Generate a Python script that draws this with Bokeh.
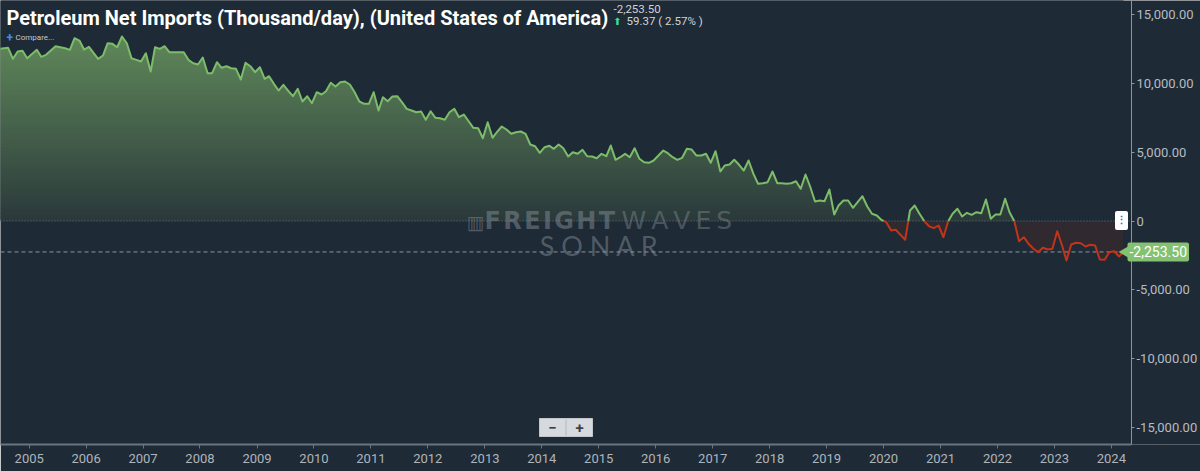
import numpy as np
import pandas as pd
from bokeh.plotting import figure
from bokeh.models import (Range1d, FixedTicker, CustomJSTickFormatter,
                          DatetimeTickFormatter, Label, ColumnDataSource)
from bokeh.embed import file_html
from bokeh.resources import INLINE

# ---------------- data (monthly, thousand barrels/day) ----------------
months = [
    "2004-06", "2004-08", "2004-09", "2004-10", "2004-11", "2004-12",
    "2005-02", "2005-03", "2005-04", "2005-06", "2005-08", "2005-09", "2005-10", "2005-11", "2005-12",
    "2006-01", "2006-03", "2006-04", "2006-05", "2006-06", "2006-07", "2006-08", "2006-09", "2006-10", "2006-11", "2006-12",
    "2007-01", "2007-02", "2007-03", "2007-04", "2007-05", "2007-06", "2007-07", "2007-09", "2007-10", "2007-11", "2007-12",
    "2008-01", "2008-02", "2008-03", "2008-04", "2008-05", "2008-06", "2008-07", "2008-08", "2008-09", "2008-10", "2008-11", "2008-12",
    "2009-01", "2009-02", "2009-03", "2009-04", "2009-05", "2009-06", "2009-07", "2009-08", "2009-09", "2009-10", "2009-11", "2009-12",
    "2010-01", "2010-02", "2010-03", "2010-04", "2010-05", "2010-06", "2010-07", "2010-08", "2010-09", "2010-10", "2010-11", "2010-12",
    "2011-01", "2011-02", "2011-03", "2011-04", "2011-05", "2011-06", "2011-07", "2011-08", "2011-09", "2011-10", "2011-11", "2011-12",
    "2012-01", "2012-02", "2012-03", "2012-04", "2012-05", "2012-06", "2012-07", "2012-08", "2012-09", "2012-10", "2012-11", "2012-12",
    "2013-01", "2013-02", "2013-03", "2013-04", "2013-05", "2013-06", "2013-07", "2013-08", "2013-09", "2013-10", "2013-11", "2013-12",
    "2014-01", "2014-02", "2014-03", "2014-04", "2014-05", "2014-06", "2014-07", "2014-08", "2014-09", "2014-10", "2014-11", "2014-12",
    "2015-01", "2015-02", "2015-03", "2015-04", "2015-05", "2015-06", "2015-07", "2015-08", "2015-09", "2015-10", "2015-11", "2015-12",
    "2016-01", "2016-02", "2016-03", "2016-04", "2016-05", "2016-06", "2016-07", "2016-08", "2016-09", "2016-10", "2016-11", "2016-12",
    "2017-01", "2017-02", "2017-03", "2017-04", "2017-05", "2017-06", "2017-07", "2017-08", "2017-09", "2017-10", "2017-11", "2017-12",
    "2018-01", "2018-02", "2018-03", "2018-04", "2018-05", "2018-06", "2018-07", "2018-08", "2018-09", "2018-10", "2018-11", "2018-12",
    "2019-01", "2019-02", "2019-03", "2019-04", "2019-05", "2019-06", "2019-08", "2019-09", "2019-10", "2019-11", "2019-12",
    "2020-01", "2020-02", "2020-03", "2020-05", "2020-06", "2020-07", "2020-08", "2020-09", "2020-10", "2020-11", "2020-12",
    "2021-01", "2021-02", "2021-03", "2021-04", "2021-05", "2021-06", "2021-07", "2021-08", "2021-09", "2021-10", "2021-11", "2021-12",
    "2022-01", "2022-02", "2022-03", "2022-04", "2022-05", "2022-06", "2022-07", "2022-08", "2022-09", "2022-10", "2022-11", "2022-12",
    "2023-01", "2023-02", "2023-03", "2023-04", "2023-05", "2023-06", "2023-07", "2023-08", "2023-09", "2023-10", "2023-11", "2023-12",
    "2024-01", "2024-02", "2024-03",
]
net_imports = [
    12536, 12609, 11808, 12340, 12391, 11852,
    12463, 11954, 12100, 12725, 12580, 12463, 13308, 13140, 12485,
    12682, 11808, 12048, 12944, 12900, 12653, 13432, 12944, 11852, 11735, 11612,
    12216, 10884, 12653, 12536, 12725, 12289, 12289, 12289, 11735, 11488, 11393,
    11903, 10760, 10760, 11561, 11153, 11269, 11124, 11080, 10301, 11517, 11269, 10833,
    11197, 10352, 10541, 9988, 9500, 9915, 9500, 9085, 9624, 8700, 9085, 8576,
    9377, 9209, 9449, 10061, 9792, 10105, 10156, 9937, 9377, 8700, 8532, 8532,
    9377, 8044, 9013, 8721, 9064, 9085, 8649, 8168, 8044, 7921, 7972, 7367,
    7993, 7513, 7484, 7367, 7921, 8168, 7557, 7753, 7265, 6785, 6756, 6028,
    7193, 6057, 6465, 6880, 6661, 6348, 6465, 6516, 6348, 5569, 5445, 4965,
    5373, 5475, 5256, 5569, 5300, 4696, 5009, 4892, 5183, 4717, 4696, 4572,
    4892, 4717, 5496, 4455, 4645, 4892, 4645, 5300, 4528, 4281, 4237, 4404,
    4768, 5132, 4936, 4645, 4455, 4601, 5256, 5205, 4768, 4768, 4892, 4237,
    5081, 3604, 4040, 4113, 4455, 4091, 3676, 4404, 3436, 2708, 2752, 2825,
    3604, 2752, 2752, 2708, 2752, 2897, 2344, 3385, 2461, 1420, 1492, 1441,
    2293, 473, 1128, 1492, 1492, 961, 1805, 1056, 524, 400, 73,
    -87, -692, -641, -1369, 764, 1128, 524, -15, -379, -524, -328,
    -1179, -15, 524, 888, 328, 597, 451, 641, 568, 1565, 160, 473,
    473, 1616, 641, -15, -1471, -1179, -1660, -2024, -2271, -1951, -2075, -2024,
    -743, -1784, -2876, -1711, -1587, -1616, -1856, -1733, -1784, -2803, -2825, -2271,
    -2199, -2584, -2253.50,
]
title_text = "Petroleum Net Imports (Thousand/day), (United States of America)"
last_text = "-2,253.50"
change_text = "59.37 ( 2.57% )"
year_ticks = list(range(2005, 2025))
value_ticks = [-15000, -10000, -5000, 0, 5000, 10000, 15000]

# ---------------- styling / geometry ----------------
BG = "#1e2a36"
GREEN = "#7dbd6a"
RED = "#c23419"
CANVAS_W, FRAME_H = 1200, 444
AXIS_PX = 1131
X_TICK0_PX, PX_PER_YEAR = 28.7, 56.96
Y_ZERO_PX, PX_PER_5000 = 220.5, 68.67
T0 = pd.Timestamp("2005-01-01").value / 1e6
YEAR_MS = 365.2425 * 86400000.0


def px_x(px):
    return T0 + (px - X_TICK0_PX) / PX_PER_YEAR * YEAR_MS


def px_y(py):
    return (Y_ZERO_PX - py) * 5000.0 / PX_PER_5000


dates_ms = (pd.to_datetime(months) + pd.Timedelta(days=18)).asi8 / 1e6
vals = np.array(net_imports, dtype=float)

# insert zero crossings so that colours switch exactly at zero
X, V = [dates_ms[0]], [vals[0]]
for i in range(len(vals) - 1):
    a, b = vals[i], vals[i + 1]
    if a * b < 0:
        t = a / (a - b)
        X.append(dates_ms[i] + t * (dates_ms[i + 1] - dates_ms[i]))
        V.append(0.0)
    X.append(dates_ms[i + 1])
    V.append(b)
X = np.array(X)
V = np.array(V)

p = figure(x_axis_type="datetime", y_axis_location="right",
           frame_width=CANVAS_W, frame_height=FRAME_H,
           x_range=Range1d(px_x(0), px_x(CANVAS_W)),
           y_range=Range1d(px_y(FRAME_H), px_y(0)),
           output_backend="svg", toolbar_location=None,
           min_border_left=0, min_border_top=0,
           min_border_right=0, min_border_bottom=27,
           background_fill_color=BG, border_fill_color=BG,
           outline_line_color=None)
p.grid.visible = False

# gradient fill under the positive part (bands, then masked above the line)
vmax = vals.max()
n_bands = 100
edges = np.linspace(0, vmax * 1.03, n_bands + 1)
c_top = np.array([0x60, 0x88, 0x5a], dtype=float)
c_bot = np.array([0x2a, 0x39, 0x3b], dtype=float)
band_colors = []
for k in range(n_bands):
    t = min(((edges[k] + edges[k + 1]) / 2) / vmax, 1.0)
    c = c_bot + (c_top - c_bot) * t
    band_colors.append("#%02x%02x%02x" % tuple(int(round(z)) for z in c))
step = edges[1] - edges[0]
band_right = X[V >= 0].max()
band_src = ColumnDataSource(dict(
    left=[X[0]] * n_bands, right=[band_right] * n_bands,
    bottom=list(edges[:-1]), top=list(edges[1:] + step * 0.8), color=band_colors))
p.quad(left="left", right="right", bottom="bottom", top="top",
       fill_color="color", line_color=None, source=band_src)

top_val = px_y(-10)
p.varea(x=X, y1=np.maximum(V, 0), y2=np.full_like(V, top_val), fill_color=BG)
p.varea(x=X, y1=np.minimum(V, 0), y2=np.zeros_like(V), fill_color="#30292f")

# zero line and last-value line
p.segment(x0=[px_x(0)], x1=[px_x(AXIS_PX)], y0=[0], y1=[0],
          line_color="#66707a", line_dash="1 2", line_width=1)
p.segment(x0=[px_x(0)], x1=[X[-1]], y0=[vals[-1]], y1=[vals[-1]],
          line_color="#8e979f", line_dash="4 3", line_width=1)

p.line(X, np.where(V >= 0, V, np.nan), line_color=GREEN, line_width=2, line_join="round")
p.line(X, np.where(V <= 0, V, np.nan), line_color=RED, line_width=2, line_join="round")

# ---------------- axes ----------------
year_ms = list(pd.to_datetime([f"{y}-01-01" for y in year_ticks]).asi8 / 1e6)
p.xaxis.ticker = FixedTicker(ticks=year_ms)
p.xaxis.formatter = DatetimeTickFormatter(years="%Y", months="%Y", days="%Y")
p.xaxis.bounds = (px_x(0), px_x(AXIS_PX))
p.xaxis.axis_line_color = "#6b757f"
p.xaxis.axis_line_width = 2
p.xaxis.major_tick_line_color = "#6b757f"
p.xaxis.major_tick_in = 0
p.xaxis.major_tick_out = 4
p.xaxis.minor_tick_line_color = None
p.xaxis.major_label_standoff = 5
p.xaxis.major_label_text_color = "#aeb5bc"
p.xaxis.major_label_text_font = "Roboto"
p.xaxis.major_label_text_font_size = "13px"

p.yaxis.fixed_location = px_x(AXIS_PX)
p.yaxis.ticker = FixedTicker(ticks=value_ticks)
p.yaxis.formatter = CustomJSTickFormatter(code="""
    if (tick == 0) { return '0'; }
    return tick.toLocaleString('en-US', {minimumFractionDigits: 2, maximumFractionDigits: 2});
""")
p.yaxis.axis_line_color = "#8d959c"
p.yaxis.axis_line_width = 1
p.yaxis.major_tick_line_color = "#8d959c"
p.yaxis.major_tick_in = 0
p.yaxis.major_tick_out = 3
p.yaxis.minor_tick_line_color = None
p.yaxis.major_label_standoff = 2
p.yaxis.major_label_text_color = "#b6bcc2"
p.yaxis.major_label_text_font = "Roboto"
p.yaxis.major_label_text_font_size = "13px"


def label(px, py, text, size, color, bold=False, font="Roboto", align="left", **kw):
    lab = Label(x=px_x(px), y=px_y(py), text=text, text_font=font,
                text_font_size=f"{size}px", text_color=color,
                text_font_style="bold" if bold else "normal",
                text_align=align, text_baseline="middle", **kw)
    p.add_layout(lab)
    return lab


# watermark
WM = "#8f98a1"
HS = "\u200a"
label(475, 221, "▥", 19, WM, font="DejaVu Sans", align="center", text_alpha=0.45)
label(484, 220, HS.join("FREIGHT"), 24, WM, bold=True, font="DejaVu Sans", text_alpha=0.45)
label(621, 220, "\u2009".join("WAVES"), 25, WM, font="DejaVu Sans", text_alpha=0.4)
label(599, 245, "S O N A R", 27, WM, font="Lato", align="center", text_alpha=0.45)

# titles
label(6, 17, title_text, 20, "#ffffff", bold=True)
label(613, 8.5, last_text, 11.5, "#d0d4d8")
label(617, 20.5, "⬆", 10, "#3ddc97", font="DejaVu Sans", align="center")
label(626, 20.5, change_text, 11.5, "#d0d4d8")
label(6, 37, "+", 12, "#3d8fe6", bold=True)
label(15, 37, "Compare...", 8, "#c3c8ce")

# zoom buttons
p.rect(x=px_x(565.5), y=px_y(427), width=53, height=18, width_units="screen",
       height_units="screen", fill_color="#d6d9dd", line_color="#c2c6cb")
p.rect(x=px_x(565.5), y=px_y(427), width=1, height=16, width_units="screen",
       height_units="screen", fill_color="#b3b8bd", line_color=None)
label(552, 427, "−", 15, "#3c4248", bold=True, align="center")
label(579, 427, "+", 15, "#3c4248", bold=True, align="center")

# zero-axis handle
label(1121, 220, "⋮", 11, "#3b6fd0", bold=True, align="center",
      background_fill_color="#ffffff", padding=(1, 3), border_radius=2)

# last value badge
BADGE = "#84c272"
p.scatter(x=[px_x(1129)], y=[vals[-1]], marker="triangle", angle=np.pi / 2,
          size=19, fill_color=BADGE, line_color=None)
label(1127, Y_ZERO_PX - vals[-1] * PX_PER_5000 / 5000.0, last_text, 14, "#ffffff",
      background_fill_color=BADGE, padding=(2, 4), border_radius=2)

open("out.html", "w").write(file_html(p, INLINE))
